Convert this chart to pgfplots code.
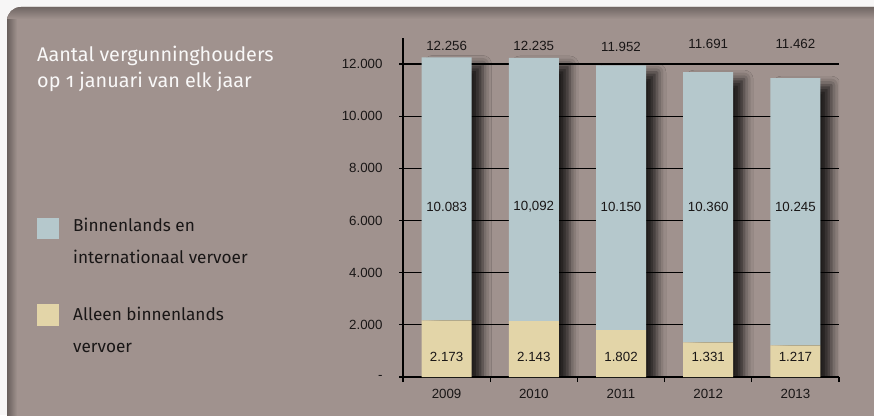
\documentclass[border=0pt]{standalone}
\usepackage{fontspec}
\setmainfont{Liberation Sans}
\newfontfamily\fira[Numbers=OldStyle]{Fira Sans}
\usepackage{pgfplots}
\pgfplotsset{compat=1.18}
\usetikzlibrary{shadows.blur}

\definecolor{panel}{RGB}{160,146,142}
\definecolor{barblue}{RGB}{181,200,204}
\definecolor{barbeige}{RGB}{227,213,168}
\definecolor{legtext}{RGB}{25,22,22}

% totals and split per year (0 = 2009 ... 4 = 2013)
\pgfplotstableread{
x alleen beide totaal
0 2173 10083 12256
1 2143 10092 12235
2 1802 10150 11952
3 1331 10360 11691
4 1217 10245 11462
}\vergunningen

\pgfplotsset{
  chartbox/.style={
    at={(403pt,38pt)}, anchor=south west, scale only axis,
    width=436pt, height=339pt,
    xmin=-0.5, xmax=4.5, ymin=0, ymax=13000,
  },
}

\begin{document}
\begin{tikzpicture}
\useasboundingbox (0pt,0pt) rectangle (874pt,415pt);
\fill[white!92!panel] (0pt,0pt) rectangle (874pt,415pt);
\fill[panel, rounded corners=14pt] (7pt,-30pt) rectangle (910pt,408pt);
\begin{scope}
  \clip[rounded corners=14pt] (7pt,-30pt) rectangle (910pt,408pt);
  \shade[left color=black!35!panel, right color=panel] (7pt,-30pt) rectangle (17pt,408pt);
  \shade[top color=black!30!panel, bottom color=panel] (7pt,396pt) rectangle (910pt,408pt);
\end{scope}

% title and legend
\node[anchor=base west, text=white!94!panel, font=\fira\fontsize{19.8}{22}\selectfont, inner sep=0pt] at (37pt,353pt) {Aantal vergunninghouders};
\node[anchor=base west, text=white!94!panel, font=\fira\fontsize{19.8}{22}\selectfont, inner sep=0pt] at (37pt,327pt) {op 1 januari van elk jaar};
\fill[barblue] (37pt,176pt) rectangle (59pt,197pt);
\fill[barbeige] (37pt,89pt) rectangle (59pt,111pt);
\begin{scope}[every node/.style={anchor=base west, text=legtext, font=\fira\fontsize{17.2}{19}\selectfont, inner sep=0pt}]
\node at (73pt,183pt) {Binnenlands en};
\node at (73pt,151pt) {internationaal vervoer};
\node at (73pt,95pt) {Alleen binnenlands};
\node at (73pt,63pt) {vervoer};
\end{scope}

% shadows behind the bars
\begin{axis}[chartbox, hide axis, ybar, bar width=50pt]
\addplot[draw=none, fill=none, blur shadow={shadow xshift=11pt, shadow yshift=-7pt, shadow blur radius=9pt, shadow opacity=80}]
  table[x=x, y=totaal] {\vergunningen};
\end{axis}

\begin{axis}[
  chartbox,
  ybar stacked, bar width=50pt,
  axis x line=bottom, axis y line=left,
  axis line style={-, line width=1.2pt, black},
  tick align=outside,
  xtick={0,1,2,3,4},
  xticklabels={2009,2010,2011,2012,2013},
  major x tick style={draw=none},
  minor xtick={-0.5,0.5,1.5,2.5,3.5,4.5},
  minor tick length=5pt,
  minor x tick style={line width=1.2pt, black},
  ytick={0,2000,4000,6000,8000,10000,12000},
  yticklabels={-,2.000,4.000,6.000,8.000,10.000,12.000},
  scaled y ticks=false,
  major tick length=4pt,
  major y tick style={line width=1.2pt, black},
  ymajorgrids,
  major grid style={line width=1.2pt, black},
  tick label style={font=\fontsize{13.3}{15}\selectfont, text=legtext},
  xticklabel style={yshift=-5pt},
  yticklabel style={xshift=-13pt},
]
\addplot[fill=barbeige, draw=none] table[x=x, y=alleen] {\vergunningen};
\addplot[fill=barblue, draw=none] table[x=x, y=beide] {\vergunningen};
\end{axis}

% value labels
\begin{axis}[
  chartbox, hide axis,
  nodes near coords, point meta=explicit symbolic,
  every node near coord/.style={anchor=center, font=\fontsize{13.3}{15}\selectfont, text=legtext},
]
\addplot[draw=none, mark=none] coordinates {(0,755)[2.173] (1,755)[2.143] (2,755)[1.802] (3,755)[1.331] (4,755)[1.217]};
\addplot[draw=none, mark=none] coordinates {(0,6520)[10.083] (1,6520)[10,092] (2,6520)[10.150] (3,6520)[10.360] (4,6520)[10.245]};
\addplot[draw=none, mark=none] coordinates {(0,12700)[12.256] (1,12700)[12.235] (2,12645)[11.952] (3,12770)[11.691] (4,12760)[11.462]};
\end{axis}
\end{tikzpicture}
\end{document}
